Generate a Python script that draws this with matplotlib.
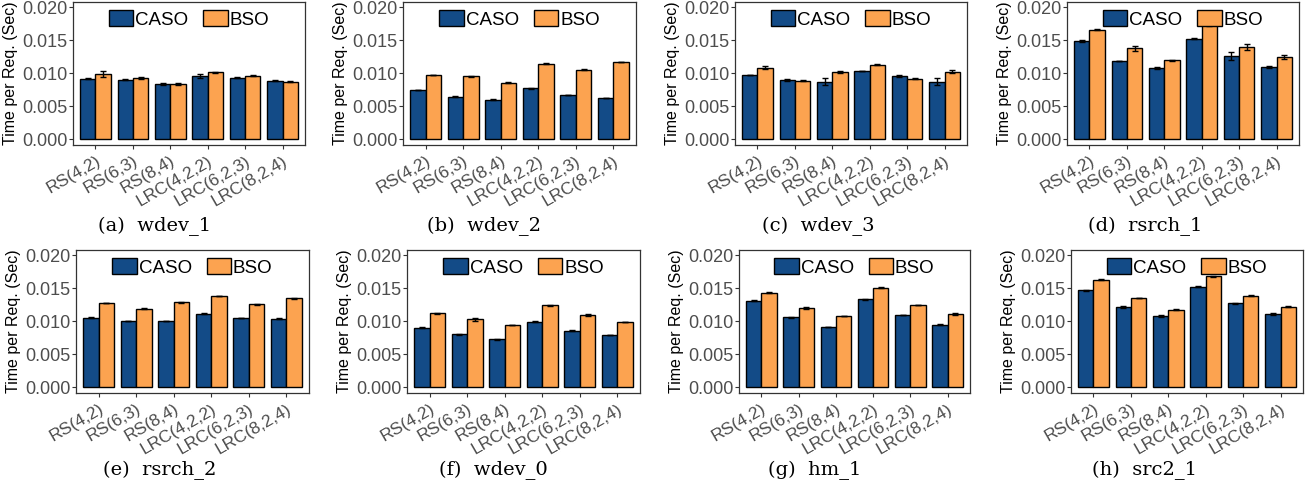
import matplotlib

matplotlib.use("Agg")
import matplotlib.pyplot as plt
import numpy as np

plt.rcParams["font.family"] = ["Liberation Sans", "DejaVu Sans"]

CODES = ["RS(4,2)", "RS(6,3)", "RS(8,4)", "LRC(4,2,2)", "LRC(6,2,3)", "LRC(8,2,4)"]
TRACES = ["wdev_1", "wdev_2", "wdev_3", "rsrch_1", "rsrch_2", "wdev_0", "hm_1", "src2_1"]
TAGS = ["(a)", "(b)", "(c)", "(d)", "(e)", "(f)", "(g)", "(h)"]

# mean time per request (sec), per trace
caso = [
    [0.00919, 0.00904, 0.00838, 0.00965, 0.00934, 0.00890],
    [0.00746, 0.00645, 0.00600, 0.00770, 0.00670, 0.00624],
    [0.00970, 0.00900, 0.00870, 0.01035, 0.00960, 0.00870],
    [0.01487, 0.01183, 0.01081, 0.01523, 0.01259, 0.01100],
    [0.01056, 0.01000, 0.01005, 0.01117, 0.01046, 0.01040],
    [0.00903, 0.00801, 0.00724, 0.00995, 0.00857, 0.00791],
    [0.01311, 0.01061, 0.00913, 0.01332, 0.01097, 0.00944],
    [0.01469, 0.01219, 0.01082, 0.01525, 0.01270, 0.01117],
]
bso = [
    [0.00990, 0.00930, 0.00838, 0.01015, 0.00965, 0.00873],
    [0.00975, 0.00954, 0.00858, 0.01147, 0.01056, 0.01173],
    [0.01086, 0.00890, 0.01020, 0.01127, 0.00914, 0.01025],
    [0.01660, 0.01380, 0.01198, 0.01726, 0.01396, 0.01249],
    [0.01276, 0.01189, 0.01286, 0.01383, 0.01260, 0.01347],
    [0.01122, 0.01030, 0.00944, 0.01240, 0.01097, 0.00990],
    [0.01434, 0.01199, 0.01082, 0.01510, 0.01245, 0.01107],
    [0.01628, 0.01352, 0.01173, 0.01684, 0.01388, 0.01219],
]
caso_err = [
    [0.00010, 0.00008, 0.00010, 0.00030, 0.00010, 0.00005],
    [0.00003, 0.00003, 0.00003, 0.00003, 0.00003, 0.00005],
    [0.00003, 0.00020, 0.00055, 0.00003, 0.00020, 0.00055],
    [0.00010, 0.00003, 0.00010, 0.00005, 0.00060, 0.00015],
    [0.00003, 0.00003, 0.00005, 0.00003, 0.00003, 0.00003],
    [0.00003, 0.00010, 0.00003, 0.00003, 0.00005, 0.00005],
    [0.00008, 0.00008, 0.00005, 0.00008, 0.00005, 0.00008],
    [0.00008, 0.00015, 0.00012, 0.00005, 0.00008, 0.00015],
]
bso_err = [
    [0.00050, 0.00010, 0.00015, 0.00010, 0.00005, 0.00012],
    [0.00005, 0.00003, 0.00005, 0.00005, 0.00008, 0.00003],
    [0.00020, 0.00010, 0.00010, 0.00008, 0.00008, 0.00020],
    [0.00005, 0.00035, 0.00010, 0.00003, 0.00050, 0.00030],
    [0.00005, 0.00005, 0.00005, 0.00003, 0.00008, 0.00010],
    [0.00005, 0.00020, 0.00003, 0.00003, 0.00010, 0.00005],
    [0.00003, 0.00015, 0.00005, 0.00008, 0.00005, 0.00015],
    [0.00005, 0.00005, 0.00008, 0.00008, 0.00005, 0.00008],
]

BLUE = "#134b87"
ORANGE = "#fca350"
GREY = "#4d4d4d"

W, H = 1310, 491
# axes boxes in pixels: (left, top, right, bottom)
boxes = [
    (73, 2, 305, 145), (403, 2, 636, 145), (735, 2, 967, 145), (1067, 2, 1299, 145),
    (76, 250, 309, 393), (407, 250, 640, 393), (739, 250, 970, 393), (1071, 250, 1303, 393),
]
caption_x = [155, 484, 818, 1145, 160, 493, 815, 1145]
caption_y = [226, 226, 226, 226, 470, 470, 470, 470]

fig = plt.figure(figsize=(W / 100, H / 100), dpi=100)
x = np.arange(1, len(CODES) + 1)
bw = 0.41

for i in range(8):
    l, t, r, b = boxes[i]
    ax = fig.add_axes([l / W, 1 - b / H, (r - l) / W, (b - t) / H])
    ax.bar(x - bw / 2, caso[i], bw, color=BLUE, edgecolor="black", lw=1.0,
           label="CASO", zorder=2)
    ax.bar(x + bw / 2, bso[i], bw, color=ORANGE, edgecolor="black", lw=1.0,
           label="BSO", zorder=2)
    ax.errorbar(x - bw / 2, caso[i], yerr=caso_err[i], fmt="none", ecolor="black",
                elinewidth=1.0, capsize=2.5, capthick=1.0, zorder=3)
    ax.errorbar(x + bw / 2, bso[i], yerr=bso_err[i], fmt="none", ecolor="black",
                elinewidth=1.0, capsize=2.5, capthick=1.0, zorder=3)

    ax.set_xlim(0.4, 6.6)
    ax.set_ylim(-0.00087, 0.0208)
    ax.set_yticks([0.0, 0.005, 0.010, 0.015, 0.020])
    ax.set_yticklabels(["0.000", "0.005", "0.010", "0.015", "0.020"])
    ax.set_xticks(x)
    ax.set_xticklabels(CODES, rotation=30, ha="right", rotation_mode="anchor")
    ax.tick_params(axis="both", colors="#333333", labelcolor=GREY, labelsize=13,
                   length=3, width=0.8, pad=1)
    ax.tick_params(axis="x", labelsize=12.5, pad=3)
    for s in ax.spines.values():
        s.set_color("#333333")
        s.set_linewidth(0.9)
    ax.set_ylabel("Time per Req. (Sec)", fontsize=11.5, color="black")
    ax.yaxis.set_label_coords(-55 / (r - l), 0.5)

    ax.legend(loc="upper center", bbox_to_anchor=(0.5, 1.02), ncol=2,
              frameon=False, fontsize=13.5, handlelength=1.3, handleheight=0.9,
              handletextpad=0.1, columnspacing=0.8, borderaxespad=0.2)

    fig.text(caption_x[i] / W, 1 - caption_y[i] / H, f"{TAGS[i]}  {TRACES[i]}",
             ha="center", va="center", fontsize=14,
             family=["DejaVu Serif", "Liberation Serif"])

fig.savefig("out.png", dpi=100)
